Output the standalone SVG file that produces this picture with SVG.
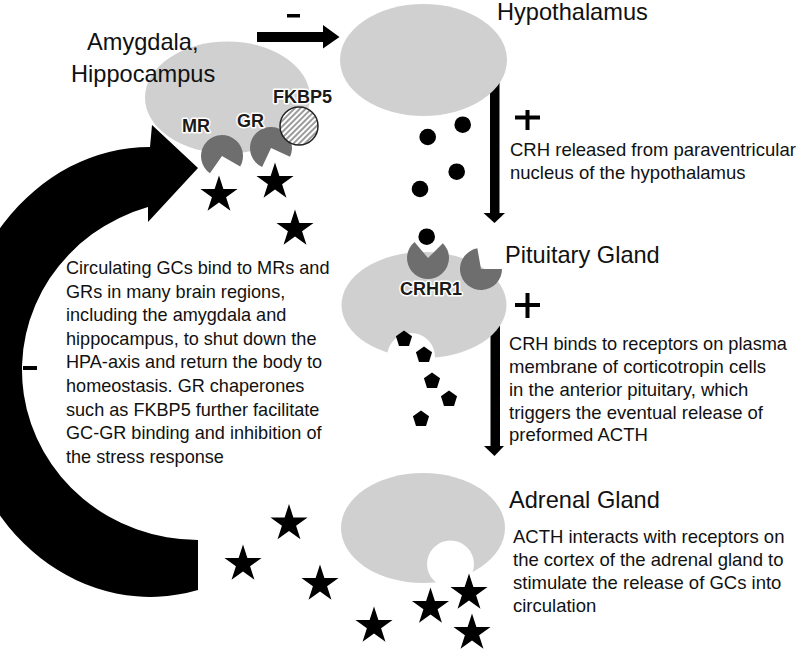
<svg xmlns="http://www.w3.org/2000/svg" width="800" height="652" viewBox="0 0 800 652">
<style>
text{font-family:"Liberation Sans",Arial,sans-serif;fill:#111}
.head{font-size:23.6px}
.para{font-size:18.5px}
.lpara{font-size:18.1px}
.lbl{font-size:18px;font-weight:bold;fill:#1a1a1a;stroke:#fff;stroke-width:3px;paint-order:stroke;stroke-linejoin:round}
.gland{fill:#d0d0d0}
.rec{fill:#6e6e6e}
.blk{fill:#000}
.hole{fill:#fff}
</style>
<defs>
<path id="star" d="M0,-19.5 L4.38,-6.03 L18.55,-6.03 L7.09,2.3 L11.46,15.78 L0,7.45 L-11.46,15.78 L-7.09,2.3 L-18.55,-6.03 L-4.38,-6.03 Z" fill="#000"/>
<path id="pent" d="M0,-8.5 L8.08,-2.63 L5,6.88 L-5,6.88 L-8.08,-2.63 Z" fill="#000"/>
<circle id="dot" r="8.3" fill="#000"/>
<pattern id="hatch" patternUnits="userSpaceOnUse" width="4" height="4" patternTransform="rotate(45)">
<rect width="4" height="4" fill="#fff"/>
<line x1="1" y1="0" x2="1" y2="4" stroke="#666" stroke-width="1.3"/>
</pattern>
</defs>

<g id="connectors">
<path id="feedback-arrow" class="blk" d="M150,146.9 A195,225 0 1 0 198,590 L198,540 A176,170 0 0 1 148,207 L148,222 L198,168 L152,125 Z"/>
<rect x="23" y="366" width="14" height="4" class="blk"/>
<g id="top-arrow">
<rect x="257" y="32" width="67" height="10" class="blk"/>
<polygon points="323,25 339.5,37 323,48.5" class="blk"/>
<rect x="287" y="14" width="13" height="3.5" class="blk"/>
</g>
<g id="hypo-arrow">
<rect x="490" y="76" width="9.5" height="138" class="blk"/>
<polygon points="483.5,213 505,213 494.5,223" class="blk"/>
<path d="M515,117.5 H540 M527.5,110 V130" stroke="#000" stroke-width="4" fill="none"/>
</g>
<g id="pit-arrow">
<rect x="490.5" y="312" width="9.5" height="136" class="blk"/>
<polygon points="484,446 504,446 494.5,456" class="blk"/>
<path d="M515,305 H540 M527.5,293 V318" stroke="#000" stroke-width="4" fill="none"/>
</g>
</g>

<g id="amygdala">
<ellipse cx="227.5" cy="97.5" rx="82.5" ry="56" class="gland"/>
<text class="head" x="87" y="50">Amygdala,</text>
<text class="head" x="71" y="81.5">Hippocampus</text>
<path class="rec" d="M222,156 L209.95,173.2 A21,21 0 1 1 240.19,166.5 Z"/>
<path class="rec" d="M271,148 L262.13,167.03 A21,21 0 1 1 290.03,156.87 Z"/>
<circle cx="299" cy="126" r="19" fill="url(#hatch)" stroke="#222" stroke-width="1.5"/>
<text class="lbl" x="182" y="132">MR</text>
<text class="lbl" x="237" y="127">GR</text>
<text class="lbl" x="273" y="103">FKBP5</text>
<use href="#star" x="219" y="195"/>
<use href="#star" x="275" y="182"/>
<use href="#star" x="295" y="229"/>
</g>

<g id="hypothalamus">
<ellipse cx="423.5" cy="60" rx="83.5" ry="56" class="gland"/>
<text class="head" x="497" y="20">Hypothalamus</text>
<use href="#dot" x="462.7" y="124.7"/>
<use href="#dot" x="427.7" y="137"/>
<use href="#dot" x="456.7" y="171.7"/>
<use href="#dot" x="420" y="189"/>
<text class="para" x="510" y="156">CRH released from paraventricular</text>
<text class="para" x="510" y="179">nucleus of the hypothalamus</text>
</g>

<g id="pituitary">
<ellipse cx="424" cy="305" rx="82.5" ry="53" class="gland"/>
<circle cx="411" cy="357" r="24" class="hole"/>
<path class="rec" d="M428,258 L442.85,243.15 A21,21 0 1 1 414.5,241.91 Z"/>
<path class="rec" d="M481,269 L502,269 A21,21 0 1 1 477.35,248.32 Z"/>
<use href="#dot" x="426.7" y="236.7"/>
<text class="lbl" x="400" y="295">CRHR1</text>
<text class="head" x="505" y="263">Pituitary Gland</text>
<use href="#pent" x="404" y="339"/>
<use href="#pent" x="424" y="355"/>
<use href="#pent" x="432" y="381"/>
<use href="#pent" x="449" y="399"/>
<use href="#pent" x="421" y="419"/>
<text class="para" x="509" y="350" style="font-size:18.2px">CRH binds to receptors on plasma</text>
<text class="para" x="509" y="373">membrane of corticotropin cells</text>
<text class="para" x="509" y="396">in the anterior pituitary, which</text>
<text class="para" x="509" y="418.5">triggers the eventual release of</text>
<text class="para" x="509" y="441">preformed ACTH</text>
</g>

<g id="adrenal">
<ellipse cx="423" cy="528" rx="82" ry="55" class="gland"/>
<circle cx="450.5" cy="564" r="23.5" class="hole"/>
<text class="head" x="509" y="508">Adrenal Gland</text>
<text class="para" x="513" y="543">ACTH interacts with receptors on</text>
<text class="para" x="513" y="566">the cortex of the adrenal gland to</text>
<text class="para" x="513" y="589">stimulate the release of GCs into</text>
<text class="para" x="513" y="612">circulation</text>
<use href="#star" x="289" y="523.5"/>
<use href="#star" x="243" y="564"/>
<use href="#star" x="320" y="584"/>
<use href="#star" x="374" y="626"/>
<use href="#star" x="430.5" y="607"/>
<use href="#star" x="469" y="593"/>
<use href="#star" x="472" y="633"/>
</g>

<g id="feedback-text">
<text class="lpara" x="66" y="274">Circulating GCs bind to MRs and</text>
<text class="lpara" x="66" y="297.6">GRs in many brain regions,</text>
<text class="lpara" x="66" y="321.2">including the amygdala and</text>
<text class="lpara" x="66" y="344.8">hippocampus, to shut down the</text>
<text class="lpara" x="66" y="368.4">HPA-axis and return the body to</text>
<text class="lpara" x="66" y="392">homeostasis. GR chaperones</text>
<text class="lpara" x="66" y="415.6">such as FKBP5 further facilitate</text>
<text class="lpara" x="66" y="439.2">GC-GR binding and inhibition of</text>
<text class="lpara" x="66" y="462.8">the stress response</text>
</g>
</svg>
